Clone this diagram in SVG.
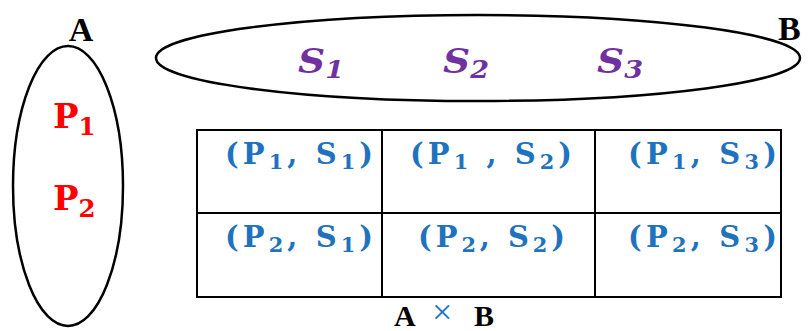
<svg xmlns="http://www.w3.org/2000/svg" width="808" height="331" viewBox="0 0 808 331">
<style>
.set{fill:none;stroke:#000;stroke-width:2.5}
.grid{fill:none;stroke:#000;stroke-width:2}
.lbl{font-family:"Liberation Serif",serif;font-weight:bold;font-size:34px;fill:#000}
.ab{font-family:"Liberation Serif",serif;font-weight:bold;font-size:30px;fill:#000}
.x{font-family:"Liberation Serif",serif;font-size:36px;fill:#1F73BE}
.p{font-family:"DejaVu Serif",serif;font-weight:bold;font-size:34px;fill:#FF0000}
.s{font-family:"DejaVu Serif",serif;font-weight:bold;font-style:italic;font-size:34px;fill:#7030A0}
.c{font-family:"DejaVu Serif",serif;font-weight:bold;font-size:29px;fill:#1F73BE}
.sub{font-size:72%}
</style>
<g id="setA">
<ellipse class="set" cx="68" cy="186" rx="55" ry="140"/>
<text class="lbl" x="81" y="41" text-anchor="middle">A</text>
<text class="p" x="53" y="128">P<tspan class="sub" dy="7">1</tspan></text>
<text class="p" x="53" y="210">P<tspan class="sub" dy="7">2</tspan></text>
</g>
<g id="setB">
<ellipse class="set" cx="478" cy="58" rx="322" ry="43"/>
<text class="lbl" x="778" y="40">B</text>
<text class="s" x="298" y="73" textLength="46" lengthAdjust="spacingAndGlyphs">S<tspan class="sub" dy="5">1</tspan></text>
<text class="s" x="443" y="73" textLength="46" lengthAdjust="spacingAndGlyphs">S<tspan class="sub" dy="5">2</tspan></text>
<text class="s" x="597" y="73" textLength="46" lengthAdjust="spacingAndGlyphs">S<tspan class="sub" dy="5">3</tspan></text>
</g>
<g id="product">
<rect class="grid" x="197" y="130" width="584" height="167"/>
<line class="grid" x1="197" y1="213" x2="781" y2="213"/>
<line class="grid" x1="382" y1="130" x2="382" y2="297"/>
<line class="grid" x1="595" y1="130" x2="595" y2="297"/>
<text class="c" x="225" y="164" textLength="148" lengthAdjust="spacing">(P<tspan class="sub" dy="5">1</tspan><tspan dy="-5">, S</tspan><tspan class="sub" dy="5">1</tspan><tspan dy="-5">)</tspan></text>
<text class="c" x="410" y="164" textLength="162" lengthAdjust="spacing">(P<tspan class="sub" dy="5">1</tspan><tspan dy="-5"> , S</tspan><tspan class="sub" dy="5">2</tspan><tspan dy="-5">)</tspan></text>
<text class="c" x="628" y="164" textLength="149" lengthAdjust="spacing">(P<tspan class="sub" dy="5">1</tspan><tspan dy="-5">, S</tspan><tspan class="sub" dy="5">3</tspan><tspan dy="-5">)</tspan></text>
<text class="c" x="225" y="247" textLength="148" lengthAdjust="spacing">(P<tspan class="sub" dy="5">2</tspan><tspan dy="-5">, S</tspan><tspan class="sub" dy="5">1</tspan><tspan dy="-5">)</tspan></text>
<text class="c" x="418" y="247" textLength="147" lengthAdjust="spacing">(P<tspan class="sub" dy="5">2</tspan><tspan dy="-5">, S</tspan><tspan class="sub" dy="5">2</tspan><tspan dy="-5">)</tspan></text>
<text class="c" x="628" y="247" textLength="149" lengthAdjust="spacing">(P<tspan class="sub" dy="5">2</tspan><tspan dy="-5">, S</tspan><tspan class="sub" dy="5">3</tspan><tspan dy="-5">)</tspan></text>
<text class="ab" x="394" y="326">A</text>
<text class="x" x="432" y="324">×</text>
<text class="ab" x="474" y="326">B</text>
</g>
</svg>
